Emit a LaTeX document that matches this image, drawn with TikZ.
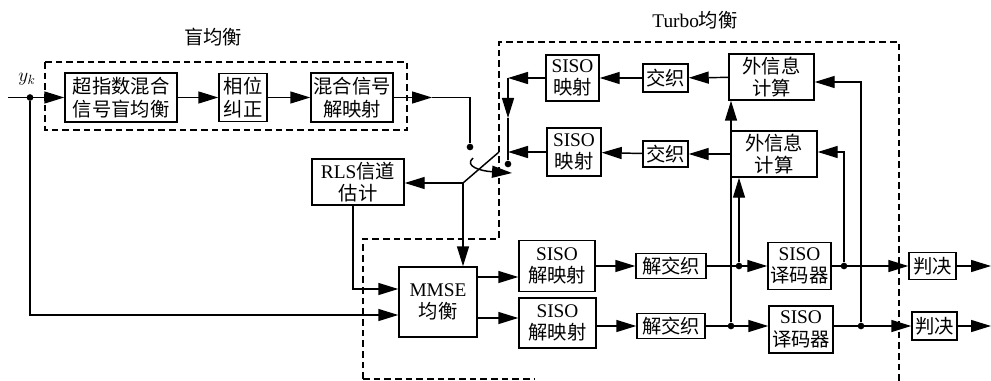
\documentclass[tikz,border=0pt]{standalone}
\usepackage{fontspec}
\setmainfont{Liberation Serif}
\newfontfamily\cjk{Noto Sans CJK SC}
\usetikzlibrary{arrows.meta,calc}
\begin{document}
\begin{tikzpicture}[x=0.75pt,y=-0.75pt,
  every node/.style={font=\fontsize{14.5}{17}\selectfont, align=center, inner sep=0pt},
  blk/.style={draw, line width=1.1pt},
  sig/.style={line width=1.1pt},
  arr/.style={sig, -{Triangle[length=15pt,width=9pt]}},
  dsh/.style={line width=1.1pt, dash pattern=on 5pt off 3pt},
  dotc/.style={circle, fill, inner sep=0pt, minimum size=5pt},
]
\useasboundingbox (0,0) rectangle (991,381);

% titles
\node (t1) at (213,37) {\cjk 盲均衡};
\node (t2) at (695,20) {Turbo{\cjk 均衡}};

% dashed frames
\draw[dsh] (45,62) rectangle (407,130);
\draw[dsh] (363,379) -- (363,239) -- (499,239) -- (499,42) -- (899,42) -- (899,381);
\draw[dsh] (363,379) -- (535,379);

% blind equalization boxes
\node[blk, minimum width=84pt, minimum height=36.75pt] (b1) at (121,97.5) {\cjk 超指数混合\\\cjk 信号盲均衡};
\node[blk, minimum width=36pt, minimum height=36pt] (b2) at (243,97.5) {\cjk 相位\\\cjk 纠正};
\node[blk, minimum width=61.5pt, minimum height=36.75pt] (b3) at (352,97.5) {\cjk 混合信号\\\cjk 解映射};

% RLS and MMSE
\node[blk, minimum width=69pt, minimum height=34.5pt] (rls) at (358,182) {RLS{\cjk 信道}\\\cjk 估计};
\node[blk, minimum width=58.5pt, minimum height=52.5pt] (mmse) at (438,302) {MMSE\\\cjk 均衡};

% forward rows
\node[blk, minimum width=57pt, minimum height=38.25pt] (dmA) at (557,266) {SISO\\\cjk 解映射};
\node[blk, minimum width=57.75pt, minimum height=37.5pt] (dmB) at (557.5,323) {SISO\\\cjk 解映射};
\node[blk, minimum width=52.5pt, minimum height=18.75pt] (jjA) at (671,266) {\cjk 解交织};
\node[blk, minimum width=51pt, minimum height=18.75pt] (jjB) at (671,326) {\cjk 解交织};
\node[blk, minimum width=47.25pt, minimum height=35.25pt] (decA) at (799.5,266) {SISO\\\cjk 译码器};
\node[blk, minimum width=48pt, minimum height=35.25pt] (decB) at (801,329.5) {SISO\\\cjk 译码器};
\node[blk, minimum width=35.25pt, minimum height=20.25pt] (pjA) at (932.5,266) {\cjk 判决};
\node[blk, minimum width=33.75pt, minimum height=21pt] (pjB) at (934.5,326) {\cjk 判决};

% feedback rows
\node[blk, minimum width=39.75pt, minimum height=34.5pt] (mpA) at (572.5,78) {SISO\\\cjk 映射};
\node[blk, minimum width=40.5pt, minimum height=36pt] (mpB) at (574,152) {SISO\\\cjk 映射};
\node[blk, minimum width=33.75pt, minimum height=21pt] (ilA) at (665.5,78) {\cjk 交织};
\node[blk, minimum width=33.75pt, minimum height=19.5pt] (ilB) at (665.5,154) {\cjk 交织};
\node[blk, minimum width=63.75pt, minimum height=34.5pt] (exA) at (771.5,77) {\cjk 外信息\\\cjk 计算};
\node[blk, minimum width=64.5pt, minimum height=34.5pt] (exB) at (774,154) {\cjk 外信息\\\cjk 计算};

% input
\coordinate (in) at (8,97.5);
\node[dotc] (d0) at (30,97.5) {};
\node (yk) at (27,79) {$y_k$};
\draw[arr] (in) -- (b1.west);
\draw[arr] (b1) -- (b2);
\draw[arr] (b2) -- (b3);
\coordinate (b3a) at (432,97.5);
\draw[arr] (b3.east) -- (b3a);
\node[dotc] (sw1) at (470,147) {};
\draw[sig] (b3a) -| (sw1);

% switch
\coordinate (piv) at (463,183);
\coordinate (blade) at (499,152);
\draw[sig] (piv) -- (blade);
\coordinate (ca) at (473,158);
\coordinate (cb) at (512,173);
\draw[arr] (ca) .. controls (464,166) and (480,171) .. (cb);
\node[dotc] (sw2) at (508,164) {};
\draw[arr] (piv) -- (piv -| rls.east);
\draw[arr] (piv) -- (piv |- mmse.north);

% RLS -> MMSE, input -> MMSE
\draw[arr] (rls.south -| 353,0) |- ($(mmse.west)+(0,-13)$);
\draw[arr] (d0) |- ($(mmse.west)+(0,13)$);

% MMSE -> demappers
\coordinate (m1) at ($(mmse.east)+(0,-25)$);
\coordinate (m2) at ($(mmse.east)+(0,16)$);
\draw[arr] (m1) -- (m1 -| dmA.west);
\draw[arr] (m2) -- (m2 -| dmB.west);

% forward chains
\draw[arr] (dmA) -- (jjA);
\draw[arr] (dmB.east |- jjB.west) -- (jjB.west);
\draw[arr] (jjA) -- (decA);
\draw[arr] (jjB.east) -- (jjB.east -| decB.west);
\draw[arr] (decA) -- (pjA);
\draw[arr] (decB.east |- pjB.west) -- (pjB.west);
\coordinate (oA) at (991,266);
\coordinate (oB) at (991,326);
\draw[arr] (pjA) -- (oA);
\draw[arr] (pjB) -- (oB);

% taps to extrinsic computation
\node[dotc] (dA1) at (739,266) {};
\node[dotc] (dB1) at (731,326) {};
\node[dotc] (dA2) at (844,266) {};
\node[dotc] (dB2) at (861,326) {};
\draw[arr] (dA1) -- (dA1 |- exB.south);
\draw[arr] (dB1) -- (dB1 |- exA.south);
\draw[arr] (dA2) |- ($(exB.east)+(0,-2)$);
\draw[arr] (dB2) |- ($(exA.east)+(0,5)$);

% feedback chains
\draw[arr] (exA) -- (ilA);
\draw[arr] (ilA) -- (mpA);
\draw[arr] (exB) -- (ilB);
\draw[arr] (ilB) -- (mpB);
\coordinate (c1) at (508,78);
\coordinate (c2) at (508,118);
\draw[arr] (mpA.west) -- (c1);
\draw[arr] (c1) -- (c2);
\draw[sig] (c2) -- (sw2);
\draw[arr] (mpB.west) -- (mpB.west -| sw2);
\end{tikzpicture}
\end{document}
